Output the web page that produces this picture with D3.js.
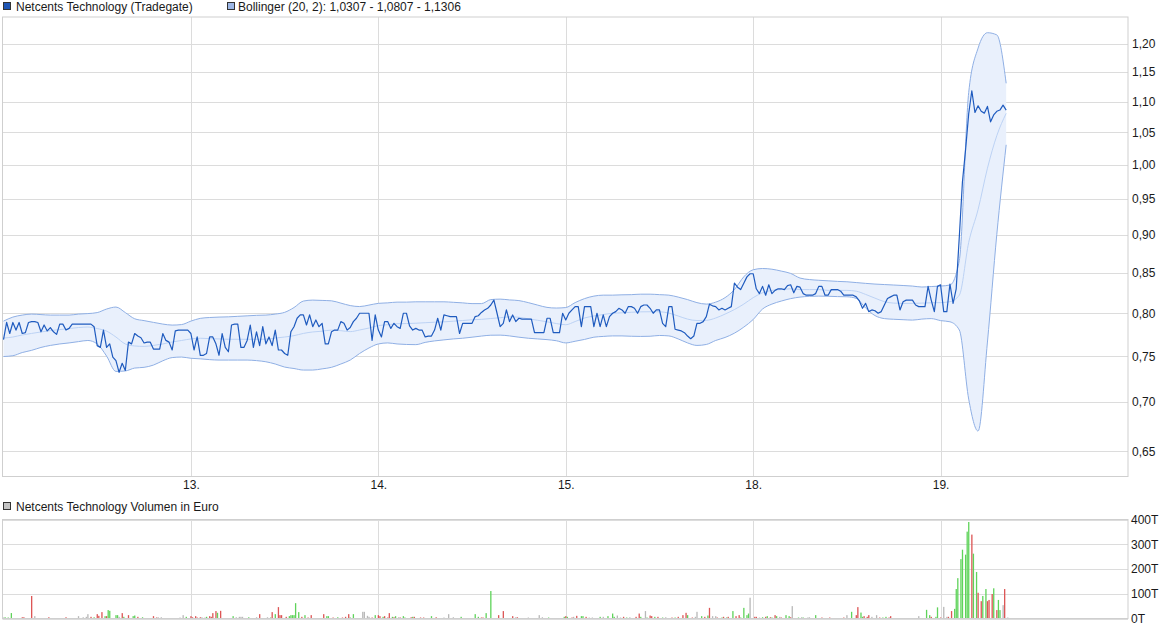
<!DOCTYPE html>
<html><head><meta charset="utf-8">
<script src="https://cdn.jsdelivr.net/npm/d3@7"></script>
<style>
body{margin:0;background:#fff}
svg{display:block}
text{font-family:"Liberation Sans",Arial,sans-serif;font-size:12px;fill:#1a1a1a}
</style>
</head><body>
<svg id="c" width="1175" height="630"></svg>
<script>
// ---------- DATA ----------
const dayLabels = ["13.", "14.", "15.", "18.", "19."];
const dayTicks = [1, 2, 3, 4, 5];
const priceTicks = [0.65, 0.70, 0.75, 0.80, 0.85, 0.90, 0.95, 1.00, 1.05, 1.10, 1.15, 1.20];
const volTicks = [0, 100, 200, 300, 400];
const legendPrice = "Netcents Technology (Tradegate)";
const legendBB = "Bollinger (20, 2): 1,0307 - 1,0807 - 1,1306";
const legendVol = "Netcents Technology Volumen in Euro";

// price, one value every 1/60 trading day
const price = [
0.769,0.789,0.776,0.789,0.780,0.789,0.776,0.777,0.789,0.790,
0.790,0.789,0.778,0.786,0.779,0.783,0.778,0.775,0.787,0.787,
0.780,0.782,0.787,0.787,0.787,0.787,0.787,0.787,0.787,0.784,
0.762,0.760,0.780,0.760,0.764,0.749,0.745,0.732,0.742,0.734,
0.766,0.764,0.776,0.773,0.771,0.765,0.766,0.766,0.758,0.758,
0.758,0.776,0.768,0.766,0.757,0.779,0.780,0.780,0.780,0.780,
0.776,0.757,0.772,0.751,0.751,0.753,0.772,0.772,0.764,0.751,
0.776,0.760,0.755,0.786,0.787,0.787,0.760,0.760,0.768,0.786,
0.760,0.778,0.762,0.784,0.764,0.772,0.762,0.780,0.757,0.757,
0.753,0.751,0.778,0.784,0.794,0.798,0.798,0.786,0.798,0.784,
0.792,0.784,0.788,0.764,0.764,0.778,0.780,0.780,0.790,0.788,
0.780,0.783,0.790,0.794,0.800,0.800,0.800,0.800,0.768,0.798,
0.780,0.772,0.790,0.790,0.782,0.788,0.784,0.782,0.800,0.800,
0.785,0.780,0.782,0.780,0.780,0.772,0.773,0.773,0.780,0.794,
0.780,0.798,0.797,0.796,0.796,0.796,0.776,0.788,0.788,0.788,
0.788,0.796,0.797,0.801,0.804,0.806,0.810,0.816,0.800,0.784,
0.788,0.804,0.790,0.798,0.790,0.794,0.793,0.793,0.793,0.793,
0.777,0.777,0.777,0.777,0.794,0.794,0.777,0.777,0.777,0.800,
0.792,0.800,0.804,0.808,0.808,0.784,0.808,0.808,0.808,0.784,
0.800,0.784,0.798,0.784,0.796,0.800,0.802,0.806,0.804,0.800,
0.808,0.808,0.806,0.800,0.808,0.810,0.810,0.806,0.800,0.804,
0.804,0.788,0.784,0.808,0.808,0.781,0.780,0.779,0.777,0.773,
0.770,0.773,0.788,0.788,0.790,0.796,0.811,0.809,0.808,0.804,
0.806,0.804,0.806,0.808,0.837,0.832,0.829,0.837,0.845,0.849,
0.849,0.830,0.824,0.833,0.822,0.835,0.824,0.828,0.830,0.830,
0.829,0.834,0.835,0.825,0.833,0.832,0.824,0.822,0.822,0.822,
0.824,0.833,0.833,0.822,0.822,0.829,0.829,0.829,0.827,0.822,
0.822,0.822,0.822,0.820,0.815,0.806,0.812,0.802,0.804,0.803,
0.800,0.802,0.810,0.818,0.820,0.822,0.822,0.804,0.814,0.816,
0.816,0.816,0.810,0.808,0.808,0.808,0.833,0.816,0.802,0.833,
0.835,0.802,0.802,0.836,0.812,0.830,0.898,0.975,1.023,1.080,
1.118,1.082,1.093,1.084,1.081,1.092,1.067,1.078,1.084,1.086,
1.094,1.086
];

// Bollinger bands, one value every 1/20 trading day
const bbUpper = [
0.7906,0.7954,0.7978,0.7990,0.7984,0.7978,0.7978,0.7978,0.7990,0.7996,
0.8008,0.8051,0.8075,0.8008,0.7934,0.7912,0.7891,0.7871,0.7859,0.7865,
0.7906,0.7939,0.7949,0.7954,0.7957,0.7963,0.7969,0.7975,0.7978,0.7990,
0.8011,0.8069,0.8148,0.8160,0.8156,0.8151,0.8123,0.8093,0.8081,0.8099,
0.8120,0.8126,0.8135,0.8135,0.8139,0.8139,0.8139,0.8139,0.8133,0.8126,
0.8117,0.8117,0.8166,0.8172,0.8162,0.8154,0.8129,0.8099,0.8071,0.8063,
0.8069,0.8129,0.8178,0.8209,0.8221,0.8221,0.8225,0.8227,0.8233,0.8233,
0.8227,0.8221,0.8197,0.8166,0.8129,0.8111,0.8135,0.8190,0.8290,0.8451,
0.8541,0.8557,0.8548,0.8524,0.8494,0.8435,0.8416,0.8407,0.8400,0.8393,
0.8388,0.8378,0.8368,0.8359,0.8353,0.8347,0.8341,0.8334,0.8322,0.8328,
0.8334,0.8347,0.8663,1.1150,1.1920,1.2200,1.2160,1.1306
];
const bbMiddle = [
0.7707,0.7719,0.7743,0.7761,0.7778,0.7794,0.7806,0.7818,0.7830,0.7836,
0.7818,0.7788,0.7719,0.7639,0.7616,0.7611,0.7622,0.7639,0.7662,0.7679,
0.7697,0.7705,0.7700,0.7697,0.7693,0.7693,0.7693,0.7693,0.7694,0.7707,
0.7719,0.7735,0.7761,0.7778,0.7787,0.7800,0.7793,0.7782,0.7801,0.7824,
0.7853,0.7863,0.7875,0.7877,0.7881,0.7887,0.7893,0.7897,0.7905,0.7913,
0.7922,0.7927,0.7937,0.7946,0.7957,0.7952,0.7933,0.7916,0.7898,0.7877,
0.7863,0.7901,0.7943,0.7967,0.7985,0.8000,0.8005,0.8012,0.8017,0.8018,
0.8018,0.8002,0.7967,0.7930,0.7913,0.7915,0.7943,0.7990,0.8045,0.8111,
0.8190,0.8250,0.8280,0.8290,0.8300,0.8290,0.8290,0.8290,0.8280,0.8280,
0.8280,0.8270,0.8230,0.8184,0.8141,0.8123,0.8120,0.8120,0.8123,0.8127,
0.8129,0.8141,0.8221,0.8900,0.9350,0.9950,1.0450,1.0807
];
const bbLower = [
0.7496,0.7505,0.7541,0.7566,0.7599,0.7622,0.7639,0.7651,0.7666,0.7679,
0.7639,0.7501,0.7330,0.7335,0.7367,0.7375,0.7400,0.7448,0.7484,0.7490,
0.7476,0.7470,0.7461,0.7456,0.7456,0.7456,0.7456,0.7450,0.7437,0.7412,
0.7378,0.7362,0.7345,0.7345,0.7358,0.7375,0.7412,0.7456,0.7530,0.7593,
0.7639,0.7651,0.7639,0.7633,0.7631,0.7657,0.7674,0.7686,0.7697,0.7705,
0.7717,0.7730,0.7740,0.7741,0.7732,0.7717,0.7705,0.7697,0.7689,0.7676,
0.7651,0.7670,0.7691,0.7717,0.7726,0.7732,0.7732,0.7728,0.7726,0.7728,
0.7737,0.7732,0.7697,0.7651,0.7622,0.7633,0.7679,0.7714,0.7764,0.7835,
0.7925,0.8051,0.8111,0.8148,0.8178,0.8197,0.8206,0.8209,0.8207,0.8203,
0.8201,0.8181,0.8063,0.7972,0.7936,0.7928,0.7923,0.7918,0.7930,0.7936,
0.7912,0.7898,0.7801,0.7031,0.6701,0.7661,0.9007,1.0307
];

// volume bars: position (1/120 trading day), value (thousand EUR), direction (1 up, -1 down, 0 unchanged)
const volPos = [
0,1,3,5,9,12,13,16,18,20,24,27,29,33,36,40,42,45,48,51,53,54,56,58,60,61,63,65,66,67,68,70,72,73,74,76,77,80,83,84,86,89,90,96,98,99,101,103,105,108,110,113,115,117,120,121,123,124,126,127,129,130,132,133,134,136,137,139,140,142,145,147,149,151,152,153,155,157,159,162,164,167,169,171,172,174,176,177,178,180,181,183,184,185,186,187,189,191,193,195,197,198,201,205,207,208,211,214,217,219,221,222,224,227,230,231,233,234,236,238,240,241,243,244,246,247,249,250,251,253,254,256,257,258,261,262,263,265,267,269,272,274,277,279,282,285,286,288,291,293,296,299,302,304,306,307,309,312,315,317,320,322,326,328,329,332,336,340,343,345,347,349,351,359,360,361,364,365,367,370,371,373,375,377,380,
382,384,387,390,391,393,395,397,399,401,405,407,408,411,412,414,415,417,419,422,424,428,430,432,435,437,438,441,443,444,447,449,451,452,454,456,457,460,461,463,464,467,469,471,472,474,476,477,478,481,482,484,486,488,489,491,492,494,495,497,498,501,503,504,505,507,509,511,512,515,516,520,522,524,527,529,531,534,536,538,540,543,546,547,549,550,551,553,554,556,559,561,563,565,567,568,570,572,575,577,581,584,586,588,589,591,593,594,597,598,600,602,604,605,607,609,610,611,613,614,616,617,618,620,621,623,624,626,627,629,630,631,633,634,636,637,638,640,641,643
];
const volVal = [
4,5,4,22,1.5,5,5,2,91,9.5,2,2,5,2,2,5,2,2,9.5,5,6.8,17.6,6.8,5,17.6,10.8,25.8,9.5,9.5,34,31,2,13.6,13.6,6.8,21.7,6.8,13.6,9.5,12,6.8,5,2,9.5,4,5,5,2,2,2,2,4,13.6,6.8,9.5,5,9.5,4,5,5,4,6.8,9.5,6.8,21.7,30,23,31,2,2,1.5,9.5,5,6.8,6.8,6.8,1.5,5,2,5,17.6,1.5,5,4,25.8,17.6,46,13.6,13.6,2,6.8,9.5,13.6,13.6,13.6,62,25.8,6.8,13.6,4,13.6,2,2,17.6,9.5,9.5,4,5,4,6.8,17.6,4,17.6,2,27,27,10.8,6.8,4,13.6,13.6,9.5,6.8,9.5,4,21.7,6.8,5,9.5,5,4,9.5,4,2,5,6.8,6.8,2,4,4,2,9.5,5,2,4,17.6,2,5,2,6.8,2,2,17.6,6.8,4,4,21.7,111,2,13.6,30,2,9.5,5,5,2,4,2,13.6,5,2,4,2,6.8,9.5,6.8,4,6.8,10.8,9.5,9.5,6.8,4,4,2,
6.8,6.8,9.5,20,6.8,12,4,6.8,4,5,6.8,20,6.8,30,4,12,9.5,6.8,6.8,4,5,4,4,6.8,13.6,23,13.6,4,6.8,27,9.5,6.8,12,43,9.5,9.5,4,4,6.8,4,6.8,30,9.5,13.6,4,43,13.6,20,84,6.8,6.8,4,5,6.8,9.5,5,4,13.6,9.5,6.8,4,13.6,9.5,5,50,2,4,5,4,4,5,13.6,2,4,2,4,2,2,2,4,13.6,27,13.6,46,24,6.8,9.5,6.8,13.6,6.8,13.6,4,4,6.8,4,9.5,2,2,2,2,2,2,9.5,2,2,35,13.6,6.8,6.8,45,4,47,6.8,6.8,30,39,119,163,240,278,258,351,390,339,262,188,104,70,91,119,70,75,99,122,34,75,34,54,119,4
];
const volDir = [
0,1,1,1,1,-1,-1,1,-1,0,-1,1,-1,-1,1,-1,-1,1,0,0,0,0,-1,1,-1,-1,-1,1,-1,1,1,-1,1,1,0,-1,1,-1,1,1,-1,1,1,-1,-1,0,0,1,1,-1,1,0,0,1,-1,-1,-1,-1,-1,0,0,1,-1,-1,-1,-1,1,-1,-1,1,-1,1,0,0,0,0,1,1,-1,0,-1,1,0,1,-1,1,-1,-1,-1,1,-1,1,1,1,1,1,1,-1,1,-1,-1,1,-1,-1,1,1,-1,1,-1,-1,-1,1,1,-1,0,0,0,0,-1,1,-1,-1,1,-1,-1,-1,1,-1,1,0,-1,1,1,-1,-1,1,-1,-1,-1,-1,-1,1,-1,-1,0,0,-1,0,0,1,0,0,1,1,-1,-1,1,1,-1,-1,-1,1,-1,0,-1,-1,0,-1,0,0,0,1,-1,1,-1,1,-1,0,-1,1,1,-1,0,0,1,
1,0,1,1,1,0,0,-1,1,0,-1,-1,1,0,1,-1,-1,1,-1,1,0,-1,1,-1,-1,-1,1,-1,0,0,1,-1,1,-1,0,0,-1,1,-1,1,-1,1,-1,-1,1,1,1,1,0,-1,-1,0,1,-1,1,-1,1,-1,1,0,-1,1,1,-1,0,-1,1,0,1,0,0,1,1,-1,1,-1,0,0,0,-1,0,1,-1,-1,1,1,-1,-1,-1,0,0,-1,1,1,-1,-1,1,1,1,1,0,-1,0,0,1,1,1,-1,1,1,-1,0,0,-1,-1,1,1,1,1,1,1,1,1,-1,1,1,-1,-1,1,1,-1,-1,-1,1,-1,1,1,0,-1,0
];

// ---------- LAYOUT ----------
const svg = d3.select("#c");
const L = 2.5, R = 1128;
const mainTop = 17, mainBot = 476.5;
const volTop = 519.5, volBot = 618.5;

const x = d3.scaleLinear().domain([0, 6]).range([3.5, 1128]);
const y = d3.scaleLog().domain([0.65, 1.2]).range([451.3, 43.7]);
const yv = d3.scaleLinear().domain([0, 400]).range([volBot, volTop]);

const gridCol = "#dcdcdc", borderCol = "#cfcfcf";

// clip paths
const defs = svg.append("defs");
defs.append("clipPath").attr("id", "cm").append("rect")
  .attr("x", L).attr("y", mainTop).attr("width", R - L).attr("height", mainBot - mainTop);
defs.append("clipPath").attr("id", "cv").append("rect")
  .attr("x", L).attr("y", volTop).attr("width", R - L).attr("height", volBot - volTop);

// ---------- MAIN PANEL ----------
const gm = svg.append("g");
gm.selectAll("line.hg").data(priceTicks).join("line")
  .attr("x1", L).attr("x2", R).attr("y1", d => Math.round(y(d)) + 0.5).attr("y2", d => Math.round(y(d)) + 0.5)
  .attr("stroke", gridCol);
gm.selectAll("line.vg").data(dayTicks).join("line")
  .attr("x1", d => Math.round(x(d)) + 0.5).attr("x2", d => Math.round(x(d)) + 0.5)
  .attr("y1", mainTop).attr("y2", mainBot).attr("stroke", gridCol);

const plot = gm.append("g").attr("clip-path", "url(#cm)");
const bbIdx = d3.range(bbUpper.length);
plot.append("path").datum(bbIdx)
  .attr("d", d3.area().curve(d3.curveMonotoneX)
    .x(j => x(j / 20)).y0(j => y(bbLower[j])).y1(j => y(bbUpper[j])))
  .attr("fill", "#e9f0fc");
const bandLine = arr => d3.line().curve(d3.curveMonotoneX).x(j => x(j / 20)).y(j => y(arr[j]));
plot.append("path").datum(bbIdx).attr("d", bandLine(bbMiddle))
  .attr("fill", "none").attr("stroke", "#bcd2f4").attr("stroke-width", 1);
plot.append("path").datum(bbIdx).attr("d", bandLine(bbUpper))
  .attr("fill", "none").attr("stroke", "#8fafe4").attr("stroke-width", 1);
plot.append("path").datum(bbIdx).attr("d", bandLine(bbLower))
  .attr("fill", "none").attr("stroke", "#8fafe4").attr("stroke-width", 1);
plot.append("path").datum(d3.range(price.length))
  .attr("d", d3.line().x(i => x(i / 60)).y(i => y(price[i])))
  .attr("fill", "none").attr("stroke", "#1f5bbf").attr("stroke-width", 1.2).attr("stroke-linejoin", "round");

gm.append("rect").attr("x", L).attr("y", mainTop).attr("width", R - L).attr("height", mainBot - mainTop)
  .attr("fill", "none").attr("stroke", borderCol);

// axes
const fmt = d3.format(".2f");
const ay = gm.append("g").attr("transform", `translate(${R},0)`)
  .call(d3.axisRight(y).tickValues(priceTicks).tickSize(0).tickPadding(4)
    .tickFormat(d => fmt(d).replace(".", ",")));
ay.select(".domain").remove();
const ax = gm.append("g").attr("transform", `translate(0,${mainBot})`)
  .call(d3.axisBottom(x).tickValues(dayTicks).tickSize(0).tickPadding(4)
    .tickFormat((d, i) => dayLabels[i]));
ax.select(".domain").remove();

// legend
svg.append("rect").attr("x", 3.5).attr("y", 2.5).attr("width", 7).attr("height", 7)
  .attr("fill", "#1f56b4").attr("stroke", "#333");
svg.append("text").attr("x", 16).attr("y", 11).text(legendPrice);
svg.append("rect").attr("x", 227.5).attr("y", 2.5).attr("width", 7).attr("height", 7)
  .attr("fill", "#9db7e6").attr("stroke", "#333");
svg.append("text").attr("x", 238).attr("y", 11).text(legendBB);

// ---------- VOLUME PANEL ----------
const gv = svg.append("g");
gv.selectAll("line.hg").data(volTicks).join("line")
  .attr("x1", L).attr("x2", R).attr("y1", d => Math.round(yv(d)) + 0.5).attr("y2", d => Math.round(yv(d)) + 0.5)
  .attr("stroke", gridCol);
gv.selectAll("line.vg").data(dayTicks).join("line")
  .attr("x1", d => Math.round(x(d)) + 0.5).attr("x2", d => Math.round(x(d)) + 0.5)
  .attr("y1", volTop).attr("y2", volBot).attr("stroke", gridCol);

const colorOf = d => d > 0 ? "#5fd35a" : (d < 0 ? "#dd5555" : "#b8b8b8");
gv.append("g").attr("clip-path", "url(#cv)").selectAll("rect").data(d3.range(volPos.length)).join("rect")
  .attr("x", k => x(volPos[k] / 120) - 0.6).attr("width", 1.3)
  .attr("y", k => yv(volVal[k])).attr("height", k => volBot - yv(volVal[k]))
  .attr("fill", k => colorOf(volDir[k]));

gv.append("rect").attr("x", L).attr("y", volTop).attr("width", R - L).attr("height", volBot - volTop)
  .attr("fill", "none").attr("stroke", borderCol);
const avy = gv.append("g").attr("transform", `translate(${R},0)`)
  .call(d3.axisRight(yv).tickValues(volTicks).tickSize(0).tickPadding(3).tickFormat(d => d + "T"));
avy.select(".domain").remove();

svg.append("rect").attr("x", 3.5).attr("y", 502.5).attr("width", 7).attr("height", 7)
  .attr("fill", "#c4c4c4").attr("stroke", "#333");
svg.append("text").attr("x", 16).attr("y", 511).text(legendVol);
</script>
</body></html>
